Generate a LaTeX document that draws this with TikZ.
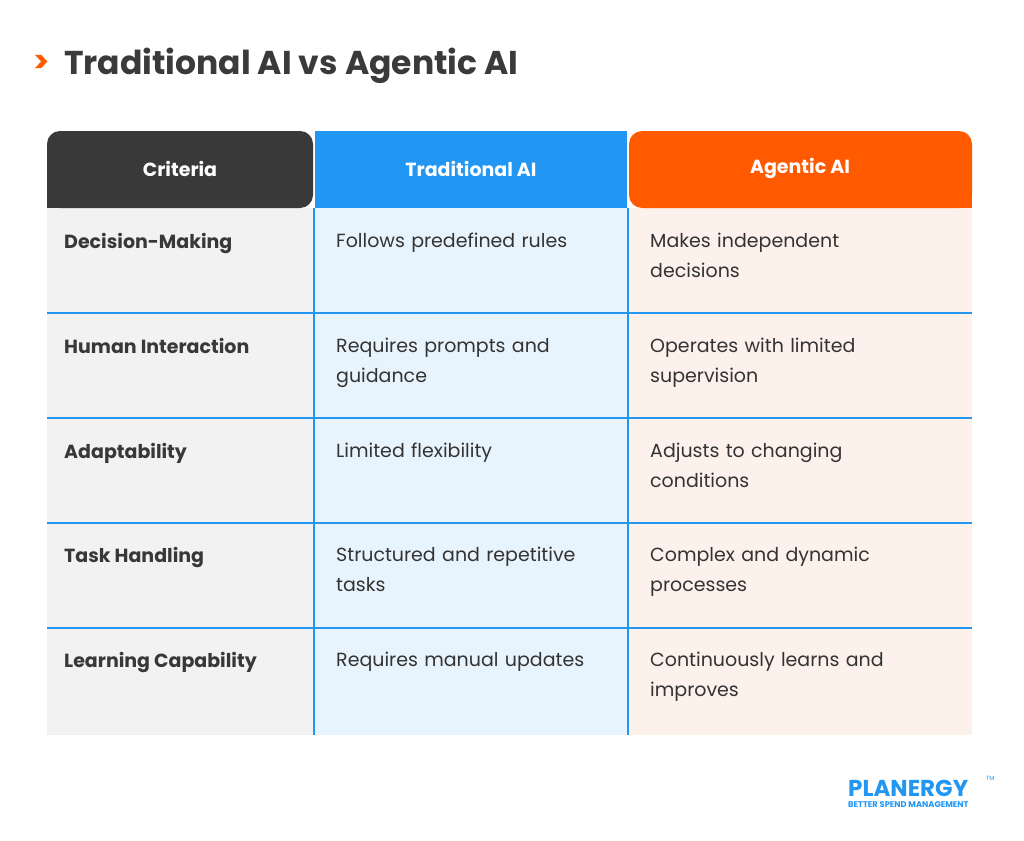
\documentclass[tikz,border=0pt]{standalone}
\usepackage{fontspec}
\setmainfont{Poppins}
\begin{document}
\begin{tikzpicture}[x=1pt,y=-1pt,
  body/.style={anchor=north west,align=left,font=\fontsize{19}{30}\selectfont,text=black!80,inner sep=0pt,text width=270pt},
  crit/.style={anchor=north west,font=\fontsize{19}{30}\selectfont\bfseries,text=black!78,inner sep=0pt},
  head/.style={font=\fontsize{19}{24}\selectfont\bfseries,text=white,inner sep=0pt}]
\definecolor{dk}{HTML}{393939}
\definecolor{bl}{HTML}{2196F3}
\definecolor{og}{HTML}{FF5A00}
\definecolor{c1}{HTML}{F2F2F2}
\definecolor{c2}{HTML}{E8F4FD}
\definecolor{c3}{HTML}{FDF1EC}
\definecolor{tt}{HTML}{3A3A3A}
\useasboundingbox[fill=white] (0,0) rectangle (1024,840);
% title
\node[anchor=west,inner sep=0pt,text=og,font=\fontsize{30}{30}\selectfont\bfseries] (gt) at (33,64) {>};
\node[anchor=west,inner sep=0pt,text=tt,font=\fontsize{33}{36}\selectfont\bfseries] (title) at (64,66) {Traditional AI vs Agentic AI};
% body fills
\fill[c1] (47,208) rectangle (313,735);
\fill[c2] (313,208) rectangle (628,735);
\fill[c3] (628,208) rectangle (972,735);
% header
\fill[dk,rounded corners=13pt] (47,208) |- (313,131) -- (313,208) -- cycle;
\fill[bl] (315,131) rectangle (627,208);
\fill[og,rounded corners=13pt] (629,208) |- (972,131) -- (972,208) -- cycle;
\fill[dk] (47,190) rectangle (60,208);
\fill[og] (960,190) rectangle (972,208);
\node[head] (h1) at (180,169) {Criteria};
\node[head] (h2) at (471,169) {Traditional AI};
\node[head] (h3) at (800,169) {Agentic AI};
% lines
\foreach \y in {313,418,523,628} \draw[bl,line width=1.2pt] (47,\y) -- (972,\y);
\draw[bl,line width=1.2pt] (314,208) -- (314,735);
\draw[bl,line width=1.2pt] (628,208) -- (628,735);
% rows
\foreach \i/\y/\a/\b/\c in {
 1/233/Decision-Making/Follows predefined rules/Makes independent\\decisions,
 2/338/Human Interaction/Requires prompts and\\guidance/Operates with limited\\supervision,
 3/443/Adaptability/Limited flexibility/Adjusts to changing\\conditions,
 4/547/Task Handling/Structured and repetitive\\tasks/Complex and dynamic\\processes,
 5/652/Learning Capability/Requires manual updates/Continuously learns and\\improves}{
 \node[crit] (a\i) at (64,\y) {\a};
 \node[body] (b\i) at (336,\y) {\b};
 \node[body] (c\i) at (650,\y) {\c};
}
% logo
\node[anchor=west,inner sep=0pt,text=bl,font=\fontsize{23}{24}\selectfont\bfseries] (logo) at (848,788) {PLANERGY};
\node[anchor=west,inner sep=0pt,text=bl,font=\fontsize{6}{6}\selectfont] (tm) at (986,778) {TM};
\node[anchor=west,inner sep=0pt,text=bl,font=\fontsize{8.3}{9}\selectfont\bfseries] (tag) at (848,805) {BETTER SPEND MANAGEMENT};
\end{tikzpicture}
\end{document}
